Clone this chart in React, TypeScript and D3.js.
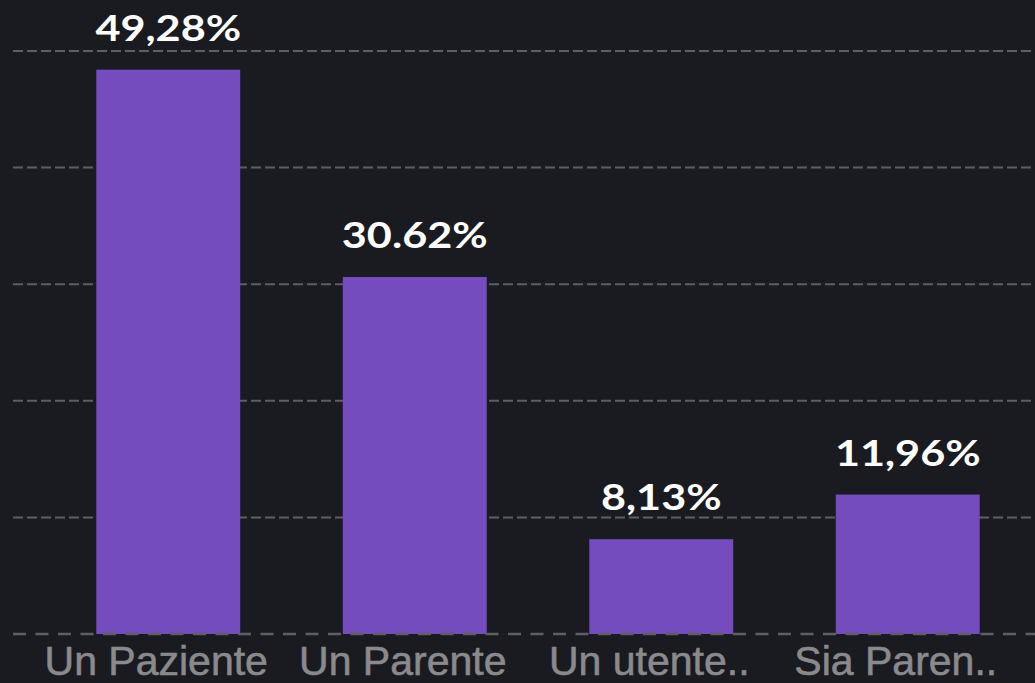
import React from "react";
import * as d3 from "d3";

const categories = ["Un Paziente", "Un Parente", "Un utente..", "Sia Paren.."];
const values = [48.4, 30.62, 8.13, 11.96];
const valueLabels = ["49,28%", "30.62%", "8,13%", "11,96%"];
const yTicks = [10, 20, 30, 40, 50];

const W = 1035;
const H = 683;

export default function App() {
  const x = d3
    .scaleBand<string>()
    .domain(categories)
    .range([45, 1031])
    .paddingInner(0.416)
    .paddingOuter(0.208);
  const y = d3.scaleLinear().domain([0, 50]).range([634, 51]);

  return (
    <svg
      width={W}
      height={H}
      style={{ position: "absolute", left: 0, top: 0, background: "#1a1a21" }}
    >
      <rect x={0} y={0} width={W} height={H} fill="#1a1a21" />
      {yTicks.map((t) => (
        <line
          key={t}
          x1={13}
          x2={W}
          y1={y(t)}
          y2={y(t)}
          stroke="#5e5e63"
          strokeWidth={2}
          strokeDasharray="10 4"
        />
      ))}
      {categories.map((c, i) => (
        <g key={c}>
          <rect
            x={x(c)}
            y={y(values[i])}
            width={x.bandwidth()}
            height={y(0) - y(values[i])}
            fill="#744cbe"
          />
          <text
            transform={`translate(${(x(c) as number) + x.bandwidth() / 2},${y(values[i]) - 29}) scale(1.2,1)`}
            textAnchor="middle"
            fill="#ffffff"
            fontFamily="Lato, sans-serif"
            fontWeight={700}
            fontSize={36}
          >
            {valueLabels[i]}
          </text>
          <text
            x={(x(c) as number) + x.bandwidth() / 2 - 12}
            y={675}
            textAnchor="middle"
            fill="#8a8a8c"
            stroke="#8a8a8c"
            strokeWidth={0.6}
            fontFamily="'Liberation Sans', Arial, sans-serif"
            fontSize={41}
          >
            {c}
          </text>
        </g>
      ))}
      <line
        x1={13}
        x2={W}
        y1={y(0)}
        y2={y(0)}
        stroke="#5e5e63"
        strokeWidth={2.5}
        strokeDasharray="13 9.5"
      />
    </svg>
  );
}
